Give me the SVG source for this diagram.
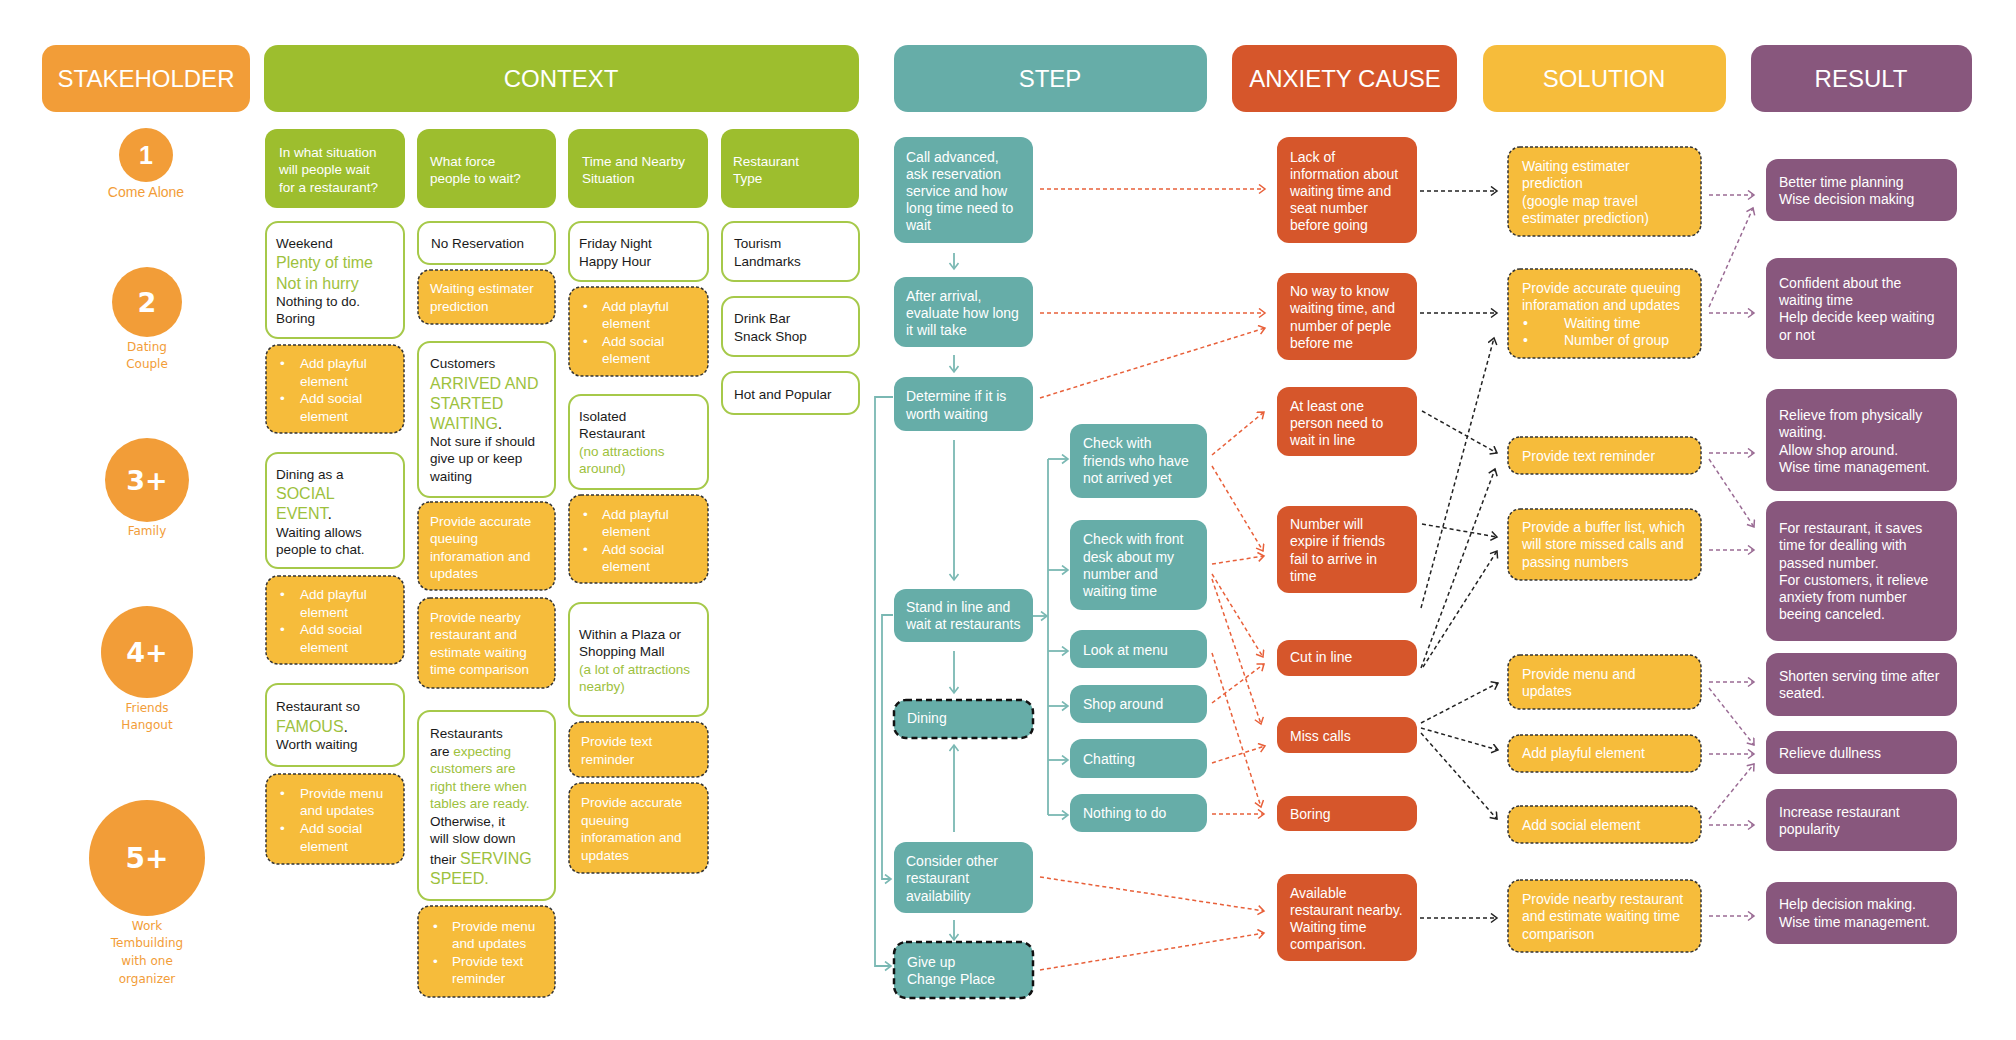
<svg xmlns="http://www.w3.org/2000/svg" width="2016" height="1040" viewBox="0 0 2016 1040">
<style>
text{font-family:"Liberation Sans",Arial,sans-serif}
.h{font-size:24px;fill:#fff;text-anchor:middle}
.w{font-size:14px;fill:#fff}
.cw{font-size:13.5px;fill:#fff}
.c{font-size:13.5px;fill:#1a1a1a}
.g{fill:#9dc13d}
.b{font-size:16px}
.ctx{fill:#fff;stroke:#a6c94a;stroke-width:2}
.ys{fill:#f6bc3b;stroke:#333;stroke-width:1.5;stroke-dasharray:3 2}
.teal{fill:#66ada8}
.tealD{fill:#66ada8;stroke:#111;stroke-width:2.5;stroke-dasharray:6 4}
.red{fill:#d6562b}
.pur{fill:#88577d}
.num{font-family:"DejaVu Sans",sans-serif;font-weight:bold;fill:#fff;text-anchor:middle}
.sl{font-family:"DejaVu Sans",sans-serif;font-size:12px;fill:#f29d38;text-anchor:middle}
.cr{stroke:#e8603a;stroke-width:1.5;stroke-dasharray:4 3;fill:none;marker-end:url(#ar)}
.ck{stroke:#222;stroke-width:1.5;stroke-dasharray:4 3;fill:none;marker-end:url(#ak)}
.cp{stroke:#9a6b94;stroke-width:1.5;stroke-dasharray:4 3;fill:none;marker-end:url(#ap)}
.ct{stroke:#7ab8b3;stroke-width:1.8;fill:none}
.cta{stroke:#7ab8b3;stroke-width:1.8;fill:none;marker-end:url(#at)}
</style>
<defs>
<marker id="ar" markerUnits="userSpaceOnUse" markerWidth="12" markerHeight="12" refX="7" refY="5" orient="auto"><path d="M1,0.5 L7,5 L1,9.5" fill="none" stroke="#e8603a" stroke-width="1.5"/></marker>
<marker id="ak" markerUnits="userSpaceOnUse" markerWidth="12" markerHeight="12" refX="7" refY="5" orient="auto"><path d="M1,0.5 L7,5 L1,9.5" fill="none" stroke="#222" stroke-width="1.5"/></marker>
<marker id="ap" markerUnits="userSpaceOnUse" markerWidth="12" markerHeight="12" refX="7" refY="5" orient="auto"><path d="M1,0.5 L7,5 L1,9.5" fill="none" stroke="#9a6b94" stroke-width="1.5"/></marker>
<marker id="at" markerUnits="userSpaceOnUse" markerWidth="12" markerHeight="12" refX="7" refY="5" orient="auto"><path d="M1,0.5 L7,5 L1,9.5" fill="none" stroke="#7ab8b3" stroke-width="1.6"/></marker>
</defs>
<rect width="2016" height="1040" fill="#fff"/>

<!-- Headers -->
<g id="hdr-stakeholder"><rect x="42" y="45" width="208" height="67" rx="14" fill="#f29d38"/><text class="h" x="146" y="87">STAKEHOLDER</text></g>
<g id="hdr-context"><rect x="264" y="45" width="595" height="67" rx="14" fill="#9dbe2e"/><text class="h" x="561" y="87">CONTEXT</text></g>
<g id="hdr-step"><rect x="894" y="45" width="313" height="67" rx="14" fill="#66ada8"/><text class="h" x="1050" y="87">STEP</text></g>
<g id="hdr-anxiety"><rect x="1232" y="45" width="225" height="67" rx="14" fill="#d6562b"/><text class="h" x="1345" y="87">ANXIETY CAUSE</text></g>
<g id="hdr-solution"><rect x="1483" y="45" width="243" height="67" rx="14" fill="#f6bc3b"/><text class="h" x="1604" y="87">SOLUTION</text></g>
<g id="hdr-result"><rect x="1751" y="45" width="221" height="67" rx="14" fill="#88577d"/><text class="h" x="1861" y="87">RESULT</text></g>

<!-- Stakeholders -->
<g id="sh-1"><circle cx="146" cy="155" r="27" fill="#f29d38"/><text class="num" x="146" y="164" font-size="25" style="font-family:'Liberation Sans',sans-serif">1</text><text x="146" y="197" font-size="14" fill="#f29d38" text-anchor="middle">Come Alone</text></g>
<g id="sh-2"><circle cx="147" cy="302" r="35" fill="#f29d38"/><text class="num" x="147" y="312" font-size="27">2</text><text class="sl" x="147" y="351">Dating</text><text class="sl" x="147" y="368">Couple</text></g>
<g id="sh-3"><circle cx="147" cy="480" r="42" fill="#f29d38"/><text class="num" x="147" y="490" font-size="27">3+</text><text class="sl" x="147" y="535">Family</text></g>
<g id="sh-4"><circle cx="147" cy="652" r="46" fill="#f29d38"/><text class="num" x="147" y="662" font-size="27">4+</text><text class="sl" x="147" y="712">Friends</text><text class="sl" x="147" y="729">Hangout</text></g>
<g id="sh-5"><circle cx="147" cy="858" r="58" fill="#f29d38"/><text class="num" x="147" y="868" font-size="28">5+</text><text class="sl" x="147" y="930">Work</text><text class="sl" x="147" y="947">Tembuilding</text><text class="sl" x="147" y="965">with one</text><text class="sl" x="147" y="983">organizer</text></g>

<!-- Context sub headers -->
<g id="ctx-h1"><rect x="265" y="129" width="140" height="79" rx="12" fill="#9dbe2e"/><text class="cw" x="279"><tspan x="279" y="157">In what situation</tspan><tspan x="279" y="174">will people wait</tspan><tspan x="279" y="192">for a restaurant?</tspan></text></g>
<g id="ctx-h2"><rect x="417" y="129" width="139" height="79" rx="12" fill="#9dbe2e"/><text class="cw"><tspan x="430" y="166">What force</tspan><tspan x="430" y="183">people to wait?</tspan></text></g>
<g id="ctx-h3"><rect x="568" y="129" width="140" height="79" rx="12" fill="#9dbe2e"/><text class="cw"><tspan x="582" y="166">Time and Nearby</tspan><tspan x="582" y="183">Situation</tspan></text></g>
<g id="ctx-h4"><rect x="721" y="129" width="138" height="79" rx="12" fill="#9dbe2e"/><text class="cw"><tspan x="733" y="166">Restaurant</tspan><tspan x="733" y="183">Type</tspan></text></g>

<!-- Context column 1 -->
<g id="c1-weekend"><rect class="ctx" x="266" y="222" width="138" height="116" rx="12"/><text class="c"><tspan x="276" y="248">Weekend</tspan><tspan x="276" y="268" class="g b">Plenty of time</tspan><tspan x="276" y="289" class="g b">Not in hurry</tspan><tspan x="276" y="306">Nothing to do.</tspan><tspan x="276" y="323">Boring</tspan></text></g>
<g id="c1-sol1"><rect class="ys" x="266" y="345" width="138" height="88" rx="12"/><text class="cw"><tspan x="280" y="368">•</tspan><tspan x="300" y="368">Add playful</tspan><tspan x="300" y="386">element</tspan><tspan x="280" y="403">•</tspan><tspan x="300" y="403">Add social</tspan><tspan x="300" y="421">element</tspan></text></g>
<g id="c1-social"><rect class="ctx" x="266" y="453" width="138" height="115" rx="12"/><text class="c"><tspan x="276" y="479">Dining as a</tspan><tspan x="276" y="499" class="g b">SOCIAL</tspan><tspan x="276" y="519" class="g b">EVENT</tspan><tspan class="b">.</tspan><tspan x="276" y="537">Waiting allows</tspan><tspan x="276" y="554">people to chat.</tspan></text></g>
<g id="c1-sol2"><rect class="ys" x="266" y="576" width="138" height="88" rx="12"/><text class="cw"><tspan x="280" y="599">•</tspan><tspan x="300" y="599">Add playful</tspan><tspan x="300" y="617">element</tspan><tspan x="280" y="634">•</tspan><tspan x="300" y="634">Add social</tspan><tspan x="300" y="652">element</tspan></text></g>
<g id="c1-famous"><rect class="ctx" x="266" y="684" width="138" height="82" rx="12"/><text class="c"><tspan x="276" y="711">Restaurant so</tspan><tspan x="276" y="732" class="g b">FAMOUS</tspan><tspan class="b">.</tspan><tspan x="276" y="749">Worth waiting</tspan></text></g>
<g id="c1-sol3"><rect class="ys" x="266" y="774" width="138" height="90" rx="12"/><text class="cw"><tspan x="280" y="798">•</tspan><tspan x="300" y="798">Provide menu</tspan><tspan x="300" y="815">and updates</tspan><tspan x="280" y="833">•</tspan><tspan x="300" y="833">Add social</tspan><tspan x="300" y="851">element</tspan></text></g>

<!-- Context column 2 -->
<g id="c2-noreserv"><rect class="ctx" x="418" y="222" width="137" height="42" rx="12"/><text class="c" x="431" y="248">No Reservation</text></g>
<g id="c2-sol1"><rect class="ys" x="418" y="270" width="137" height="54" rx="12"/><text class="cw"><tspan x="430" y="293">Waiting estimater</tspan><tspan x="430" y="311">prediction</tspan></text></g>
<g id="c2-customers"><rect class="ctx" x="418" y="342" width="137" height="155" rx="12"/><text class="c"><tspan x="430" y="368">Customers</tspan><tspan x="430" y="389" class="g b">ARRIVED AND</tspan><tspan x="430" y="409" class="g b">STARTED</tspan><tspan x="430" y="429" class="g b">WAITING</tspan><tspan class="b">.</tspan><tspan x="430" y="446">Not sure if should</tspan><tspan x="430" y="463">give up or keep</tspan><tspan x="430" y="481">waiting</tspan></text></g>
<g id="c2-sol2"><rect class="ys" x="418" y="502" width="137" height="88" rx="12"/><text class="cw"><tspan x="430" y="526">Provide accurate</tspan><tspan x="430" y="543">queuing</tspan><tspan x="430" y="561">inforamation and</tspan><tspan x="430" y="578">updates</tspan></text></g>
<g id="c2-sol3"><rect class="ys" x="418" y="598" width="137" height="90" rx="12"/><text class="cw"><tspan x="430" y="622">Provide nearby</tspan><tspan x="430" y="639">restaurant and</tspan><tspan x="430" y="657">estimate waiting</tspan><tspan x="430" y="674">time comparison</tspan></text></g>
<g id="c2-restaurants"><rect class="ctx" x="418" y="711" width="137" height="189" rx="12"/><text class="c"><tspan x="430" y="738">Restaurants</tspan><tspan x="430" y="756">are </tspan><tspan class="g">expecting</tspan><tspan x="430" y="773" class="g">customers are</tspan><tspan x="430" y="791" class="g">right there when</tspan><tspan x="430" y="808" class="g">tables are ready.</tspan><tspan x="430" y="826">Otherwise, it</tspan><tspan x="430" y="843">will slow down</tspan><tspan x="430" y="864">their </tspan><tspan class="g b">SERVING</tspan><tspan x="430" y="884" class="g b">SPEED.</tspan></text></g>
<g id="c2-sol4"><rect class="ys" x="418" y="906" width="137" height="91" rx="12"/><text class="cw"><tspan x="433" y="931">•</tspan><tspan x="452" y="931">Provide menu</tspan><tspan x="452" y="948">and updates</tspan><tspan x="433" y="966">•</tspan><tspan x="452" y="966">Provide text</tspan><tspan x="452" y="983">reminder</tspan></text></g>

<!-- Context column 3 -->
<g id="c3-friday"><rect class="ctx" x="569" y="222" width="139" height="59" rx="12"/><text class="c"><tspan x="579" y="248">Friday Night</tspan><tspan x="579" y="266">Happy Hour</tspan></text></g>
<g id="c3-sol1"><rect class="ys" x="569" y="287" width="139" height="89" rx="12"/><text class="cw"><tspan x="583" y="311">•</tspan><tspan x="602" y="311">Add playful</tspan><tspan x="602" y="328">element</tspan><tspan x="583" y="346">•</tspan><tspan x="602" y="346">Add social</tspan><tspan x="602" y="363">element</tspan></text></g>
<g id="c3-isolated"><rect class="ctx" x="569" y="395" width="139" height="94" rx="12"/><text class="c"><tspan x="579" y="421">Isolated</tspan><tspan x="579" y="438">Restaurant</tspan><tspan x="579" y="456" class="g">(no attractions</tspan><tspan x="579" y="473" class="g">around)</tspan></text></g>
<g id="c3-sol2"><rect class="ys" x="569" y="495" width="139" height="88" rx="12"/><text class="cw"><tspan x="583" y="519">•</tspan><tspan x="602" y="519">Add playful</tspan><tspan x="602" y="536">element</tspan><tspan x="583" y="554">•</tspan><tspan x="602" y="554">Add social</tspan><tspan x="602" y="571">element</tspan></text></g>
<g id="c3-plaza"><rect class="ctx" x="569" y="603" width="139" height="113" rx="12"/><text class="c"><tspan x="579" y="639">Within a Plaza or</tspan><tspan x="579" y="656">Shopping Mall</tspan><tspan x="579" y="674" class="g">(a lot of attractions</tspan><tspan x="579" y="691" class="g">nearby)</tspan></text></g>
<g id="c3-sol3"><rect class="ys" x="569" y="722" width="139" height="55" rx="12"/><text class="cw"><tspan x="581" y="746">Provide text</tspan><tspan x="581" y="764">reminder</tspan></text></g>
<g id="c3-sol4"><rect class="ys" x="569" y="783" width="139" height="90" rx="12"/><text class="cw"><tspan x="581" y="807">Provide accurate</tspan><tspan x="581" y="825">queuing</tspan><tspan x="581" y="842">inforamation and</tspan><tspan x="581" y="860">updates</tspan></text></g>

<!-- Context column 4 -->
<g id="c4-tourism"><rect class="ctx" x="722" y="222" width="137" height="59" rx="12"/><text class="c"><tspan x="734" y="248">Tourism</tspan><tspan x="734" y="266">Landmarks</tspan></text></g>
<g id="c4-bar"><rect class="ctx" x="722" y="297" width="137" height="59" rx="12"/><text class="c"><tspan x="734" y="323">Drink Bar</tspan><tspan x="734" y="341">Snack Shop</tspan></text></g>
<g id="c4-hot"><rect class="ctx" x="722" y="372" width="137" height="42" rx="12"/><text class="c" x="734" y="399">Hot and Popular</text></g>

<!-- Connectors -->
<g id="connectors">
<path class="cta" d="M954,253 V269"/>
<path class="cta" d="M954,355 V372"/>
<path class="cta" d="M954,440 V580"/>
<path class="cta" d="M954,651 V693"/>
<path class="cta" d="M954,832 V745"/>
<path class="cta" d="M954,920 V940"/>
<path class="cta" d="M893,397 H875 V966 H891"/>
<path class="cta" d="M893,615 H882 V879 H891"/>
<path class="cta" d="M1033,616 H1047"/>
<path class="ct" d="M1048,459 V815"/>
<path class="cta" d="M1048,459 H1068"/>
<path class="cta" d="M1048,570 H1068"/>
<path class="cta" d="M1048,651 H1068"/>
<path class="cta" d="M1048,706 H1068"/>
<path class="cta" d="M1048,760 H1068"/>
<path class="cta" d="M1048,815 H1068"/>

<path class="cr" d="M1040,189 L1265,189"/>
<path class="cr" d="M1040,313 L1265,313"/>
<path class="cr" d="M1040,398 L1265,328"/>
<path class="cr" d="M1212,455 L1264,412"/>
<path class="cr" d="M1212,466 L1263,551"/>
<path class="cr" d="M1212,564 L1264,556"/>
<path class="cr" d="M1212,574 L1263,657"/>
<path class="cr" d="M1212,579 L1261,724"/>
<path class="cr" d="M1212,653 L1261,807"/>
<path class="cr" d="M1212,703 L1264,664"/>
<path class="cr" d="M1212,763 L1265,746"/>
<path class="cr" d="M1212,814 L1264,814"/>
<path class="cr" d="M1040,877 L1264,911"/>
<path class="cr" d="M1040,970 L1264,933"/>

<path class="ck" d="M1420,191 L1497,191"/>
<path class="ck" d="M1420,313 L1497,313"/>
<path class="ck" d="M1422,411 L1497,453"/>
<path class="ck" d="M1422,524 L1497,537"/>
<path class="ck" d="M1421,608 L1494,338"/>
<path class="ck" d="M1421,668 L1495,469"/>
<path class="ck" d="M1423,667 L1497,551"/>
<path class="ck" d="M1421,723 L1498,683"/>
<path class="ck" d="M1421,728 L1498,750"/>
<path class="ck" d="M1421,733 L1497,819"/>
<path class="ck" d="M1420,918 L1497,918"/>

<path class="cp" d="M1709,195 L1754,195"/>
<path class="cp" d="M1709,313 L1754,313"/>
<path class="cp" d="M1709,307 L1753,208"/>
<path class="cp" d="M1709,453 L1754,453"/>
<path class="cp" d="M1709,459 L1754,527"/>
<path class="cp" d="M1709,550 L1754,550"/>
<path class="cp" d="M1709,682 L1754,682"/>
<path class="cp" d="M1709,688 L1754,745"/>
<path class="cp" d="M1709,754 L1754,754"/>
<path class="cp" d="M1709,819 L1754,764"/>
<path class="cp" d="M1709,825 L1754,825"/>
<path class="cp" d="M1709,916 L1754,916"/>
</g>

<!-- Steps -->
<g id="st-call"><rect class="teal" x="894" y="137" width="139" height="106" rx="12"/><text class="w"><tspan x="906" y="162">Call advanced,</tspan><tspan x="906" y="179">ask reservation</tspan><tspan x="906" y="196">service and how</tspan><tspan x="906" y="213">long time need to</tspan><tspan x="906" y="230">wait</tspan></text></g>
<g id="st-arrival"><rect class="teal" x="894" y="277" width="139" height="70" rx="12"/><text class="w"><tspan x="906" y="301">After arrival,</tspan><tspan x="906" y="318">evaluate how long</tspan><tspan x="906" y="335">it will take</tspan></text></g>
<g id="st-determine"><rect class="teal" x="894" y="377" width="139" height="54" rx="12"/><text class="w"><tspan x="906" y="401">Determine if it is</tspan><tspan x="906" y="419">worth waiting</tspan></text></g>
<g id="st-stand"><rect class="teal" x="894" y="589" width="139" height="53" rx="12"/><text class="w"><tspan x="906" y="612">Stand in line and</tspan><tspan x="906" y="629">wait at restaurants</tspan></text></g>
<g id="st-dining"><rect class="tealD" x="894" y="700" width="139" height="38" rx="12"/><text class="w" x="907" y="723">Dining</text></g>
<g id="st-consider"><rect class="teal" x="894" y="842" width="139" height="71" rx="12"/><text class="w"><tspan x="906" y="866">Consider other</tspan><tspan x="906" y="883">restaurant</tspan><tspan x="906" y="901">availability</tspan></text></g>
<g id="st-giveup"><rect class="tealD" x="894" y="942" width="139" height="56" rx="12"/><text class="w"><tspan x="907" y="967">Give up</tspan><tspan x="907" y="984">Change Place</tspan></text></g>

<g id="ss-friends"><rect class="teal" x="1070" y="424" width="137" height="74" rx="12"/><text class="w"><tspan x="1083" y="448">Check with</tspan><tspan x="1083" y="466">friends who have</tspan><tspan x="1083" y="483">not arrived yet</tspan></text></g>
<g id="ss-frontdesk"><rect class="teal" x="1070" y="520" width="137" height="90" rx="12"/><text class="w"><tspan x="1083" y="544">Check with front</tspan><tspan x="1083" y="562">desk about my</tspan><tspan x="1083" y="579">number and</tspan><tspan x="1083" y="596">waiting time</tspan></text></g>
<g id="ss-menu"><rect class="teal" x="1070" y="630" width="137" height="38" rx="12"/><text class="w" x="1083" y="655">Look at menu</text></g>
<g id="ss-shop"><rect class="teal" x="1070" y="685" width="137" height="38" rx="12"/><text class="w" x="1083" y="709">Shop around</text></g>
<g id="ss-chat"><rect class="teal" x="1070" y="739" width="137" height="39" rx="12"/><text class="w" x="1083" y="764">Chatting</text></g>
<g id="ss-nothing"><rect class="teal" x="1070" y="794" width="137" height="38" rx="12"/><text class="w" x="1083" y="818">Nothing to do</text></g>

<!-- Anxiety causes -->
<g id="ax-lack"><rect class="red" x="1277" y="137" width="140" height="106" rx="12"/><text class="w"><tspan x="1290" y="162">Lack of</tspan><tspan x="1290" y="179">information about</tspan><tspan x="1290" y="196">waiting time and</tspan><tspan x="1290" y="213">seat number</tspan><tspan x="1290" y="230">before going</tspan></text></g>
<g id="ax-noway"><rect class="red" x="1277" y="273" width="140" height="87" rx="12"/><text class="w"><tspan x="1290" y="296">No way to know</tspan><tspan x="1290" y="313">waiting time, and</tspan><tspan x="1290" y="331">number of peple</tspan><tspan x="1290" y="348">before me</tspan></text></g>
<g id="ax-atleast"><rect class="red" x="1277" y="387" width="140" height="69" rx="12"/><text class="w"><tspan x="1290" y="411">At least one</tspan><tspan x="1290" y="428">person need to</tspan><tspan x="1290" y="445">wait in line</tspan></text></g>
<g id="ax-expire"><rect class="red" x="1277" y="506" width="140" height="87" rx="12"/><text class="w"><tspan x="1290" y="529">Number will</tspan><tspan x="1290" y="546">expire if friends</tspan><tspan x="1290" y="564">fail to arrive in</tspan><tspan x="1290" y="581">time</tspan></text></g>
<g id="ax-cut"><rect class="red" x="1277" y="640" width="140" height="36" rx="12"/><text class="w" x="1290" y="662">Cut in line</text></g>
<g id="ax-miss"><rect class="red" x="1277" y="717" width="140" height="36" rx="12"/><text class="w" x="1290" y="741">Miss calls</text></g>
<g id="ax-boring"><rect class="red" x="1277" y="796" width="140" height="35" rx="12"/><text class="w" x="1290" y="819">Boring</text></g>
<g id="ax-available"><rect class="red" x="1277" y="874" width="140" height="87" rx="12"/><text class="w"><tspan x="1290" y="898">Available</tspan><tspan x="1290" y="915">restaurant nearby.</tspan><tspan x="1290" y="932">Waiting time</tspan><tspan x="1290" y="949">comparison.</tspan></text></g>

<!-- Solutions -->
<g id="so-estimater"><rect class="ys" x="1508" y="147" width="193" height="89" rx="12"/><text class="w"><tspan x="1522" y="171">Waiting estimater</tspan><tspan x="1522" y="188">prediction</tspan><tspan x="1522" y="206">(google map travel</tspan><tspan x="1522" y="223">estimater prediction)</tspan></text></g>
<g id="so-queuing"><rect class="ys" x="1508" y="269" width="193" height="89" rx="12"/><text class="w"><tspan x="1522" y="293">Provide accurate queuing</tspan><tspan x="1522" y="310">inforamation and updates</tspan><tspan x="1523" y="328">•</tspan><tspan x="1564" y="328">Waiting time</tspan><tspan x="1523" y="345">•</tspan><tspan x="1564" y="345">Number of group</tspan></text></g>
<g id="so-text"><rect class="ys" x="1508" y="437" width="193" height="37" rx="12"/><text class="w" x="1522" y="461">Provide text reminder</text></g>
<g id="so-buffer"><rect class="ys" x="1508" y="509" width="193" height="71" rx="12"/><text class="w"><tspan x="1522" y="532">Provide a buffer list, which</tspan><tspan x="1522" y="549">will store missed calls and</tspan><tspan x="1522" y="567">passing numbers</tspan></text></g>
<g id="so-menu"><rect class="ys" x="1508" y="655" width="193" height="54" rx="12"/><text class="w"><tspan x="1522" y="679">Provide menu and</tspan><tspan x="1522" y="696">updates</tspan></text></g>
<g id="so-playful"><rect class="ys" x="1508" y="735" width="193" height="37" rx="12"/><text class="w" x="1522" y="758">Add playful element</text></g>
<g id="so-social"><rect class="ys" x="1508" y="806" width="193" height="37" rx="12"/><text class="w" x="1522" y="830">Add social element</text></g>
<g id="so-nearby"><rect class="ys" x="1508" y="880" width="193" height="72" rx="12"/><text class="w"><tspan x="1522" y="904">Provide nearby restaurant</tspan><tspan x="1522" y="921">and estimate waiting time</tspan><tspan x="1522" y="939">comparison</tspan></text></g>

<!-- Results -->
<g id="re-better"><rect class="pur" x="1766" y="159" width="191" height="62" rx="12"/><text class="w"><tspan x="1779" y="187">Better time planning</tspan><tspan x="1779" y="204">Wise decision making</tspan></text></g>
<g id="re-confident"><rect class="pur" x="1766" y="258" width="191" height="101" rx="12"/><text class="w"><tspan x="1779" y="288">Confident about the</tspan><tspan x="1779" y="305">waiting time</tspan><tspan x="1779" y="322">Help decide keep waiting</tspan><tspan x="1779" y="340">or not</tspan></text></g>
<g id="re-relieve"><rect class="pur" x="1766" y="389" width="191" height="102" rx="12"/><text class="w"><tspan x="1779" y="420">Relieve from physically</tspan><tspan x="1779" y="437">waiting.</tspan><tspan x="1779" y="455">Allow shop around.</tspan><tspan x="1779" y="472">Wise time management.</tspan></text></g>
<g id="re-restaurant"><rect class="pur" x="1766" y="501" width="191" height="140" rx="12"/><text class="w"><tspan x="1779" y="533">For restaurant, it saves</tspan><tspan x="1779" y="550">time for dealling with</tspan><tspan x="1779" y="568">passed number.</tspan><tspan x="1779" y="585">For customers, it relieve</tspan><tspan x="1779" y="602">anxiety from number</tspan><tspan x="1779" y="619">beeing canceled.</tspan></text></g>
<g id="re-shorten"><rect class="pur" x="1766" y="653" width="191" height="63" rx="12"/><text class="w"><tspan x="1779" y="681">Shorten serving time after</tspan><tspan x="1779" y="698">seated.</tspan></text></g>
<g id="re-dullness"><rect class="pur" x="1766" y="731" width="191" height="43" rx="12"/><text class="w" x="1779" y="758">Relieve dullness</text></g>
<g id="re-popularity"><rect class="pur" x="1766" y="789" width="191" height="62" rx="12"/><text class="w"><tspan x="1779" y="817">Increase restaurant</tspan><tspan x="1779" y="834">popularity</tspan></text></g>
<g id="re-decision"><rect class="pur" x="1766" y="882" width="191" height="62" rx="12"/><text class="w"><tspan x="1779" y="909">Help decision making.</tspan><tspan x="1779" y="927">Wise time management.</tspan></text></g>
</svg>
